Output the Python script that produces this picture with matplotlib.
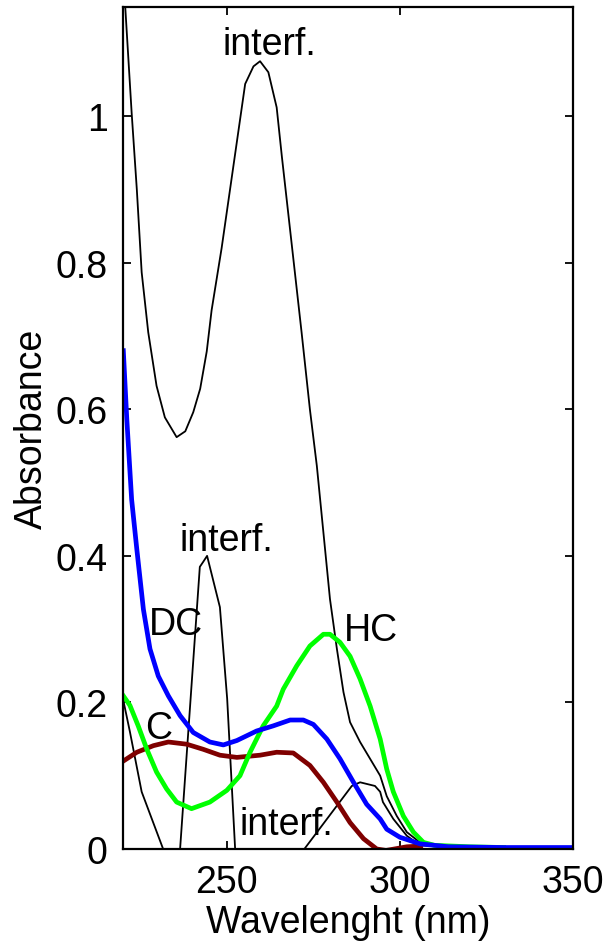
import matplotlib
matplotlib.use("Agg")
import matplotlib.pyplot as plt

plt.rcParams['font.family'] = ['Liberation Sans', 'DejaVu Sans']

# big interference band (peak ~260 nm)
wl_big = [220.0, 222.5, 224.0, 225.4, 227.3, 229.7, 232.1, 235.5, 238.0, 240.3,
          242.3, 244.2, 245.6, 248.5, 251.9, 255.3, 257.7, 259.6, 262.0, 264.4,
          265.9, 268.8, 271.6, 274.0, 276.0, 277.9, 279.8, 281.8, 283.7, 285.6,
          288.5, 291.4, 294.3, 296.2, 299.1, 302.0, 305.8, 310.0, 320.0, 350.0]
ab_big = [1.20, 1.005, 0.90, 0.787, 0.705, 0.632, 0.589, 0.562, 0.570, 0.596,
          0.628, 0.679, 0.735, 0.820, 0.932, 1.044, 1.068, 1.075, 1.060, 1.012,
          0.945, 0.823, 0.705, 0.600, 0.523, 0.432, 0.341, 0.273, 0.214, 0.173,
          0.146, 0.123, 0.100, 0.072, 0.045, 0.023, 0.009, 0.004, 0.003, 0.002]

# middle interference band (peak ~244 nm)
wl_mid = [236.5, 242.2, 243.2, 244.3, 248.0, 250.1, 252.4]
ab_mid = [0.0, 0.385, 0.392, 0.400, 0.330, 0.205, 0.0]

# small interference band (peak ~289 nm)
wl_small = [272.4, 286.1, 288.5, 292.8, 294.3, 295.1, 298.1, 302.0, 305.8, 312.0, 350.0]
ab_small = [0.0, 0.086, 0.091, 0.086, 0.078, 0.064, 0.041, 0.018, 0.005, 0.003, 0.002]

# short-wavelength interference tail
wl_left = [220.0, 222.0, 225.4, 231.6]
ab_left = [0.205, 0.160, 0.078, 0.0]

# HC (green)
wl_hc = [220.1, 222.0, 224.4, 226.9, 229.7, 232.6, 235.5, 239.8, 245.1, 250.0,
         253.8, 256.7, 260.5, 264.4, 266.3, 270.2, 274.0, 277.9, 279.8, 282.7,
         285.6, 288.5, 291.4, 294.3, 296.2, 298.1, 301.0, 303.9, 306.8, 310.0,
         320.0, 330.0]
ab_hc = [0.209, 0.196, 0.168, 0.136, 0.105, 0.082, 0.064, 0.055, 0.064, 0.080,
         0.100, 0.132, 0.168, 0.195, 0.218, 0.250, 0.277, 0.293, 0.293, 0.282,
         0.263, 0.232, 0.195, 0.150, 0.109, 0.078, 0.045, 0.023, 0.009, 0.005,
         0.003, 0.002]

# DC (blue)
wl_dc = [220.1, 221.1, 222.5, 224.0, 225.9, 227.8, 230.2, 233.1, 236.5, 240.3,
         245.1, 249.0, 252.9, 258.6, 263.4, 268.3, 272.1, 275.0, 278.9, 282.7,
         286.6, 290.4, 294.3, 296.2, 300.0, 305.8, 314.0, 330.0, 350.0]
ab_dc = [0.680, 0.587, 0.477, 0.409, 0.327, 0.273, 0.236, 0.209, 0.182, 0.159,
         0.146, 0.142, 0.148, 0.161, 0.168, 0.176, 0.176, 0.170, 0.150, 0.123,
         0.091, 0.061, 0.041, 0.027, 0.016, 0.007, 0.003, 0.002, 0.002]

# C (dark red)
wl_c = [220.1, 224.0, 228.8, 233.1, 238.4, 243.2, 248.0, 252.9, 259.6, 264.4,
        269.2, 274.0, 277.9, 281.8, 285.6, 289.5, 293.3, 296.0, 302.0, 306.0]
ab_c = [0.120, 0.132, 0.141, 0.146, 0.143, 0.136, 0.128, 0.125, 0.128, 0.132,
        0.131, 0.114, 0.091, 0.064, 0.036, 0.014, 0.000, -0.002, 0.003, 0.004]

labels = ["interf.", "interf.", "interf.", "DC", "C", "HC"]
label_x = [262.2, 250.0, 267.3, 235.3, 230.4, 291.6]
label_y = [1.085, 0.408, 0.021, 0.294, 0.151, 0.285]

fig = plt.figure(figsize=(6.1, 9.53), dpi=100)
ax = fig.add_axes([0.2016, 0.1081, 0.7377, 0.8835])

thin = 1.3
ax.plot(wl_big, ab_big, color='black', lw=thin)
ax.plot(wl_mid, ab_mid, color='black', lw=thin)
ax.plot(wl_small, ab_small, color='black', lw=thin)
ax.plot(wl_left, ab_left, color='black', lw=thin)
ax.plot(wl_c, ab_c, color='#7f0000', lw=3.4)
ax.plot(wl_hc, ab_hc, color='#00ff00', lw=3.4)
ax.plot(wl_dc, ab_dc, color='#0000ff', lw=3.4)

for t, x, y in zip(labels, label_x, label_y):
    ax.text(x, y, t, ha='center', va='baseline', fontsize=27)

ax.set_xlim(220, 350)
ax.set_ylim(0, 1.149)
ax.set_xticks([250, 300, 350])
ax.set_yticks([0, 0.2, 0.4, 0.6, 0.8, 1.0])
ax.set_yticklabels(["0", "0.2", "0.4", "0.6", "0.8", "1"])
ax.tick_params(direction='in', length=6, width=1.3, top=True, right=True,
               labelsize=27, pad=11)
for s in ax.spines.values():
    s.set_linewidth(1.6)

ax.set_xlabel("Wavelenght (nm)", fontsize=27, labelpad=3)
ax.set_ylabel("Absorbance", fontsize=27, labelpad=4)

fig.savefig("out.png", dpi=100)
